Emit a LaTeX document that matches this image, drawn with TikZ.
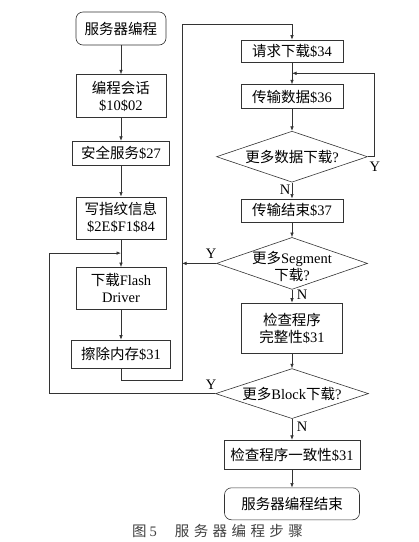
\documentclass[tikz,border=0pt]{standalone}
\usepackage{fontspec}
\setmainfont{Liberation Serif}
\newfontfamily\cjk{Noto Sans CJK SC}
\newcommand{\zh}[1]{{\cjk #1}}
\usetikzlibrary{arrows.meta,positioning,shapes.geometric,calc}

\begin{document}
\begin{tikzpicture}[x=1pt,y=1pt,>={Latex[length=4.5pt,width=3.5pt]},
  line width=.6pt,font=\fontsize{14.5}{17}\selectfont,
  box/.style={draw=black!80,align=center,inner sep=2pt,minimum width=90pt},
  term/.style={box,rounded corners=7pt},
  dec/.style={diamond,draw=black!80,aspect=3,inner sep=0pt,
    minimum width=151pt,minimum height=51pt},
  flow/.style={->,draw=black!80},
  yn/.style={inner sep=0pt}]
\useasboundingbox (0,0) rectangle (419,-542);

% ============ left column ============
\node[term,minimum height=33pt] (s0) at (121,-28.5) {\zh{服务器编程}};
\node[box,minimum height=43pt,below=29pt of s0] (s1) {\zh{编程会话}\\\$10\$02};
\node[box,minimum height=24pt,minimum width=97pt,below=23pt of s1] (s2) {\zh{安全服务}\$27};
\node[box,minimum height=42pt,below=31pt of s2] (s3) {\zh{写指纹信息}\\\$2E\$F1\$84};
\node[box,minimum height=42pt,below=28pt of s3] (s4) {\zh{下载}Flash\\Driver};
\node[box,minimum height=28pt,minimum width=99pt,below=30pt of s4] (s5) {\zh{擦除内存}\$31};
\foreach \a/\b in {s0/s1,s1/s2,s2/s3,s3/s4,s4/s5}\draw[flow] (\a)--(\b);

% ============ right column ============
\node[box,minimum height=22pt,minimum width=102pt] (r1) at (292,-51) {\zh{请求下载}\$34};
\node[box,minimum height=24pt,minimum width=102pt,below=22pt of r1] (r2) {\zh{传输数据}\$36};
\node[dec,below=22pt of r2] (d1) {\zh{更多数据下载}?};
\node[box,minimum height=23pt,minimum width=102pt,below=16pt of d1] (r3) {\zh{传输结束}\$37};
\node[dec,minimum height=52pt,below=15pt of r3] (d2) {};
\node[align=center,inner sep=0pt] (d2t) at ($(d2)+(0,-3pt)$) {\zh{更多}Segment\\\zh{下载}?};
\node[box,minimum height=50pt,minimum width=101pt,below=13pt of d2] (r4) {\zh{检查程序}\\\zh{完整性}\$31};
\node[dec,minimum width=153pt,minimum height=50pt,below=15pt of r4] (d3) {\zh{更多}Block\zh{下载}?};
\node[box,minimum height=29pt,minimum width=136pt,below=21pt of d3] (r5) {\zh{检查程序一致性}\$31};
\node[term,minimum height=32pt,minimum width=135pt,below=18pt of r5] (e) {\zh{服务器编程结束}};
\foreach \a/\b in {r1/r2,r2/d1,d1/r3,r3/d2,d2/r4,r4/d3,d3/r5,r5/e}\draw[flow] (\a)--(\b);

% loops
\coordinate (j1) at ($(s3.south)!.5!(s4.north)$);
\coordinate (j2) at ($(r1.south)!.5!(r2.north)$);
\coordinate (bus) at (182,-24);
\draw[flow] (s5.south) -- ++(0,-12pt) -| (bus) -| (r1.north);
\draw[flow] (d1.east) -- ++(6pt,0) |- (j2);
\draw[flow] (d2.west) -- (d2.west -| bus);
\draw[flow] (d3.west) -| ($(j1)+(-72pt,0)$) -- (j1);

% Y / N
\node[yn] (y1) at ($(d1.east)+(7pt,-10pt)$) {Y};
\node[yn] (y2) at ($(d2.west)+(-5pt,10pt)$) {Y};
\node[yn] (y3) at ($(d3.west)+(-4pt,9pt)$) {Y};
\node[yn] (n1) at ($(d1.south)+(-7pt,-7pt)$) {N};
\node[yn] (n2) at ($(d2.south)+(10pt,-5pt)$) {N};
\node[yn] (n3) at ($(d3.south)+(10pt,-8pt)$) {N};

% caption
\node[text=black!75] (cap) at (217.5,-531)
  {\zh{图}\kern3pt 5\kern18pt\zh{服\kern4.4pt 务\kern4.4pt 器\kern4.4pt 编\kern4.4pt 程\kern4.4pt 步\kern4.4pt 骤}};
\end{tikzpicture}
\end{document}
